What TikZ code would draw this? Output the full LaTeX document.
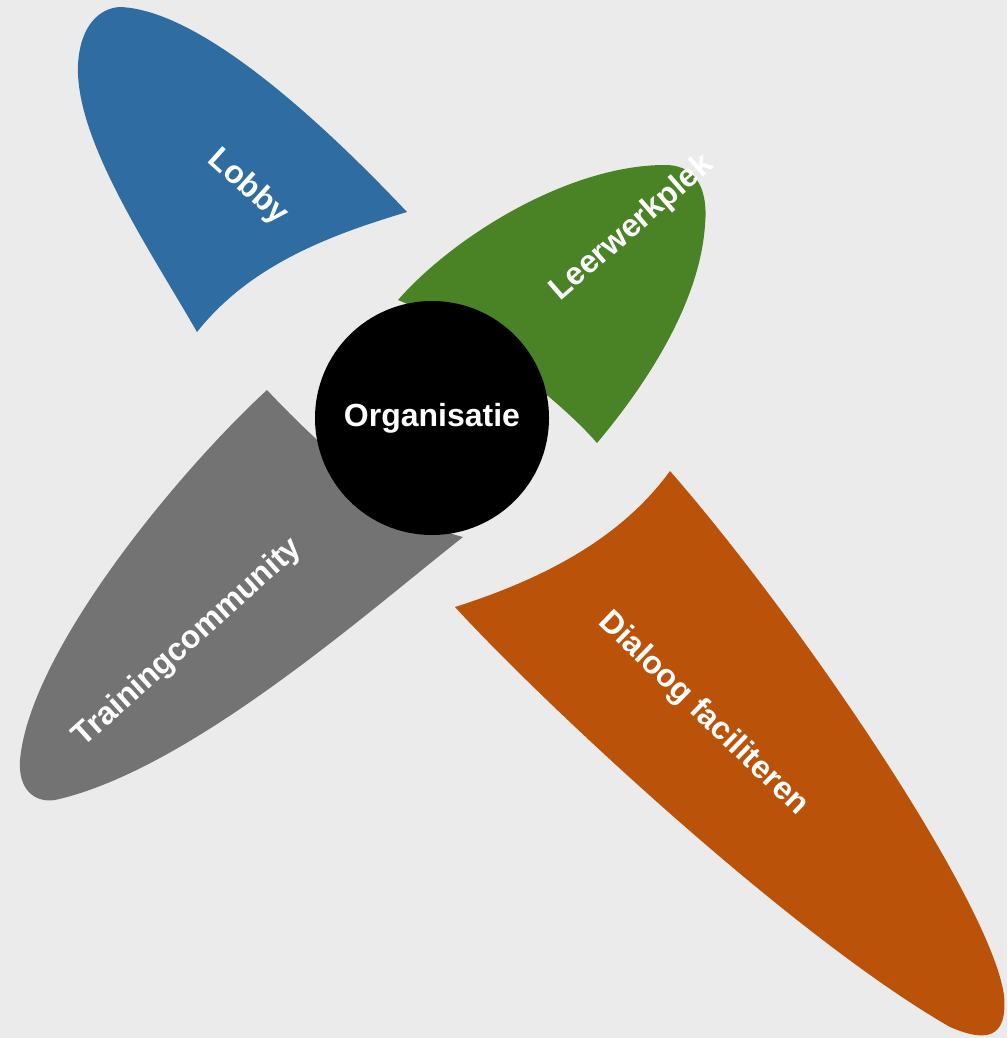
\documentclass[tikz,border=0pt]{standalone}
\usepackage{fontspec}
\setmainfont{Liberation Sans}
\definecolor{bgcol}{HTML}{EBEBEB}
\definecolor{lobbyblue}{HTML}{2E6CA2}
\definecolor{leergreen}{HTML}{4A8226}
\definecolor{traingray}{HTML}{737373}
\definecolor{dialorange}{HTML}{BA520A}
\begin{document}
\begin{tikzpicture}[x=0.75pt,y=-0.75pt,
  lbl/.style={text=white,font=\bfseries\fontsize{24}{28}\selectfont,inner sep=0pt}]
\fill[bgcol] (0,0) rectangle (1007,1038);
\useasboundingbox (0,0) rectangle (1007,1038);

% Lobby
\fill[lobbyblue] (197,332) .. controls (150,250) and (75,140) .. (78,65)
  .. controls (80,25) and (100,8) .. (120,7)
  .. controls (200,10) and (320,120) .. (407,212)
  .. controls (330,235) and (250,265) .. (197,332) -- cycle;

% Leerwerkplek
\fill[leergreen] (398,300) .. controls (455,235) and (570,165) .. (665,165)
  .. controls (700,165) and (708,195) .. (705,225)
  .. controls (700,300) and (650,380) .. (597,443)
  .. controls (560,400) and (470,330) .. (398,300) -- cycle;

% Trainingcommunity
\fill[traingray] (267,390) .. controls (180,470) and (30,650) .. (20,760)
  .. controls (18,790) and (35,803) .. (55,800)
  .. controls (190,770) and (370,610) .. (463,537)
  .. controls (400,522) and (310,436) .. (267,390) -- cycle;

% Dialoog faciliteren
\fill[dialorange] (455,607) .. controls (540,700) and (790,935) .. (950,1027)
  .. controls (985,1042) and (1008,1040) .. (1004,995)
  .. controls (990,900) and (800,620) .. (670,471)
  .. controls (620,540) and (540,580) .. (455,607) -- cycle;

% labels
\node[lbl,rotate=-42] (lobby) at (248,187) {Lobby};
\node[lbl,rotate=41] (leer) at (632,228) {Leerwerkplek};
\node[lbl,rotate=42] (train) at (188,643) {Trainingcommunity};
\node[lbl,rotate=-44] (dial) at (703,714) {Dialoog faciliteren};

% centre
\node[circle,fill=black,minimum size=175.5pt,inner sep=0pt,
  text=white,font=\bfseries\fontsize{24}{28}\selectfont] (org) at (432,418) {Organisatie};
\end{tikzpicture}
\end{document}
